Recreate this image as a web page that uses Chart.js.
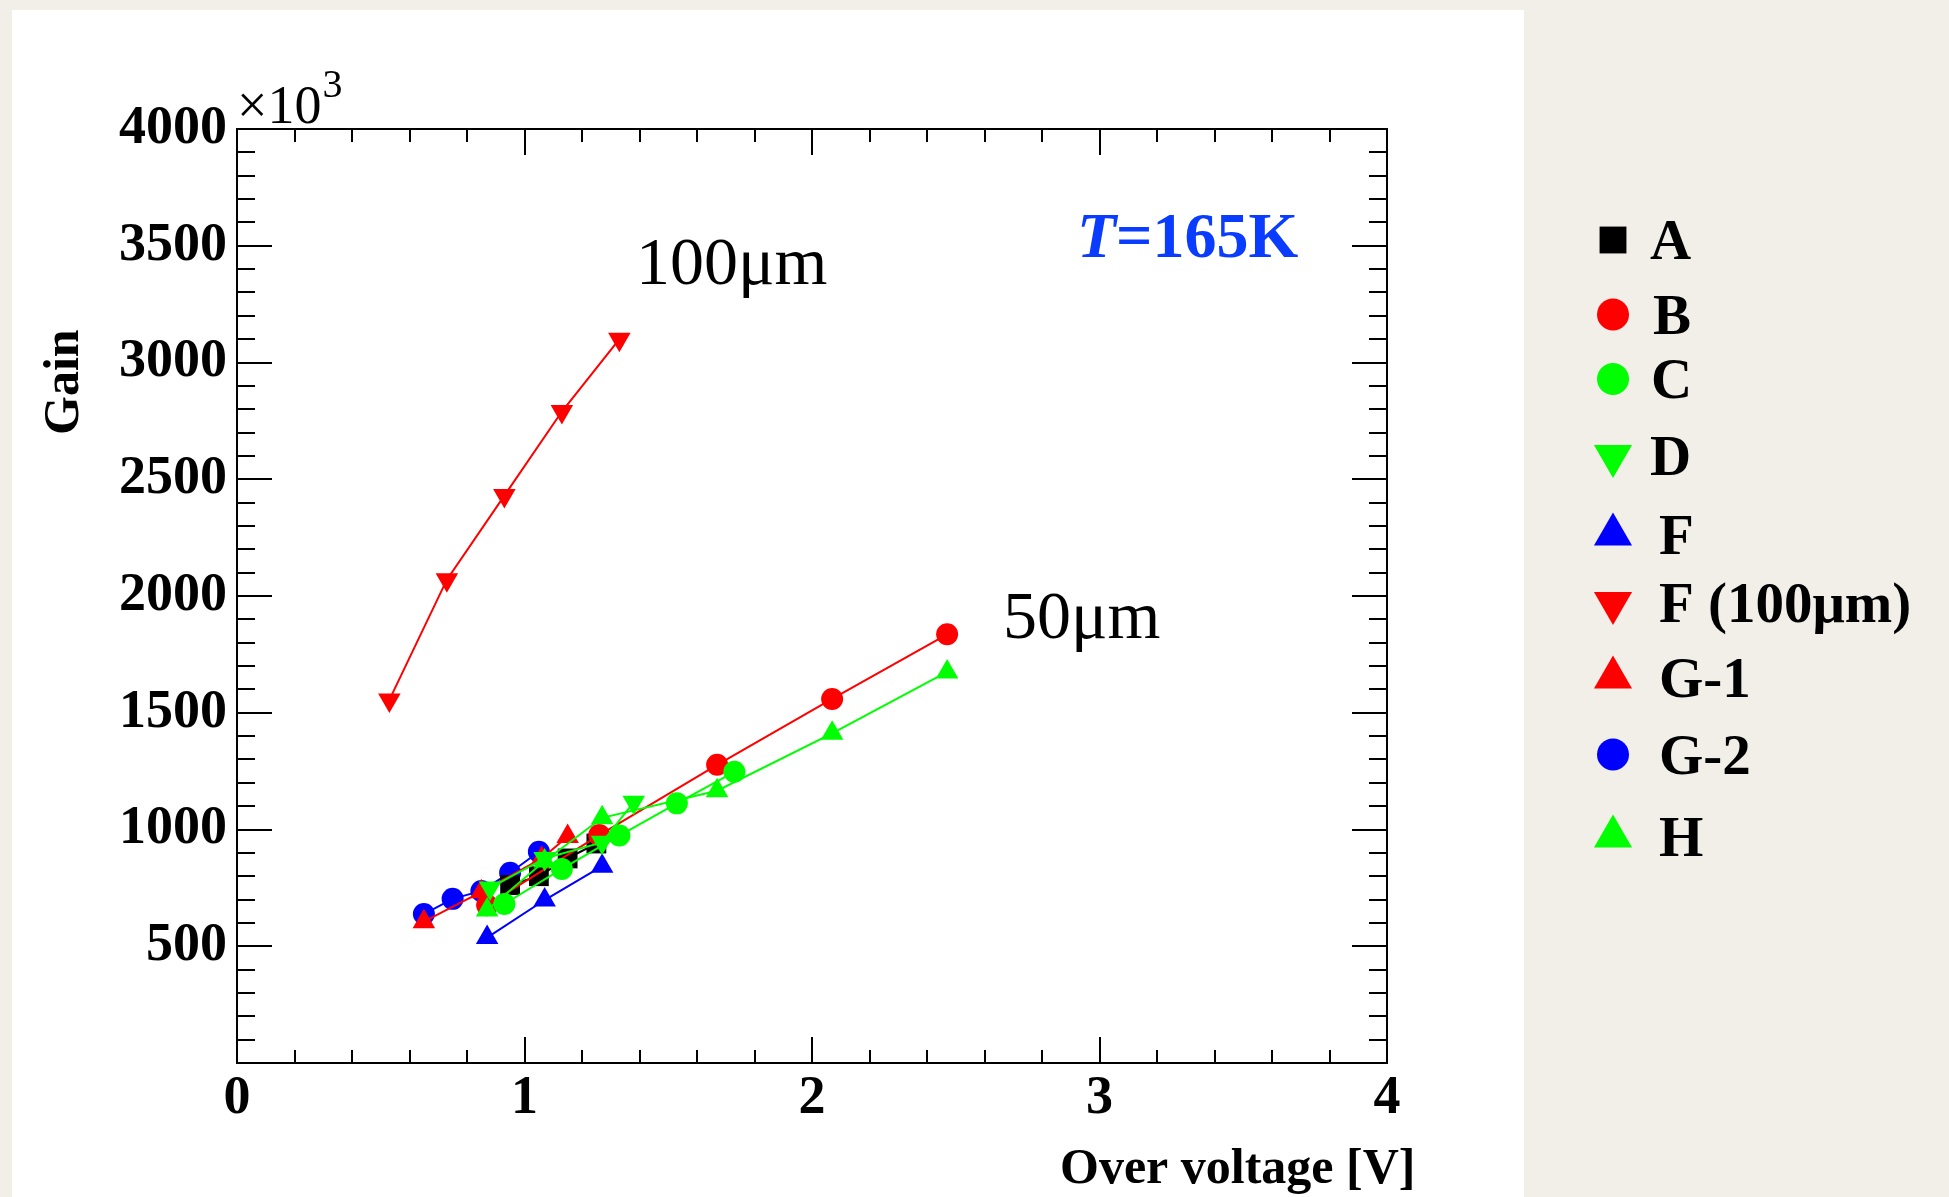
<!DOCTYPE html>
<html><head><meta charset="utf-8">
<script src="https://cdn.jsdelivr.net/npm/chart.js@4.4.1/dist/chart.umd.min.js"></script>
<style>
html,body{margin:0;padding:0;background:#f2efe9;overflow:hidden;width:1949px;height:1197px}
#c{position:absolute;left:0;top:0}
</style></head><body>
<canvas id="c" width="1949" height="1197"></canvas>
<script>
// ---- data ----
const seriesNames   = ['A','B','C','D','F','F (100μm)','G-1','G-2','H'];
const seriesColors  = ['#000000','#ff0000','#00ff00','#00ff00','#0000ff','#ff0000','#ff0000','#0000ff','#00ff00'];
const seriesMarkers = ['rect','circle','circle','triangle','triangle','triangle','triangle','circle','triangle'];
const seriesRotation= [0,0,0,180,0,180,0,0,0];

const xA = [0.95, 1.05, 1.15, 1.25];
const yA = [762, 800, 876, 940];
const xB = [0.87, 1.26, 1.67, 2.07, 2.47];
const yB = [676, 976, 1277, 1559, 1836];
const xC = [0.93, 1.13, 1.33, 1.53, 1.73];
const yC = [681, 831, 974, 1112, 1247];
const xD = [0.88, 1.07, 1.27, 1.38];
const yD = [750, 876, 945, 1117];
const xF = [0.87, 1.07, 1.27];
const yF = [537, 698, 843];
const xF100 = [0.53, 0.73, 0.93, 1.13, 1.33];
const yF100 = [1555, 2070, 2430, 2790, 3100];
const xG1 = [0.65, 0.85, 1.06, 1.15];
const yG1 = [605, 733, 876, 970];
const xG2 = [0.65, 0.75, 0.85, 0.95, 1.05];
const yG2 = [638, 703, 737, 815, 905];
const xH = [0.87, 1.07, 1.27, 1.67, 2.07, 2.47];
const yH = [655, 865, 1050, 1166, 1412, 1675];

const seriesX = [xA,xB,xC,xD,xF,xF100,xG1,xG2,xH];
const seriesY = [yA,yB,yC,yD,yF,yF100,yG1,yG2,yH];

const xTickValues = [0,1,2,3,4];
const yTickValues = [500,1000,1500,2000,2500,3000,3500,4000];

const annotations = {
  exponent: '×10', exponentSup: '3',
  label100: '100μm', label50: '50μm',
  temperature: ['T', '=165K'],
  xTitle: 'Over voltage [V]', yTitle: 'Gain'
};

// ---- styling ----
const markerRadius = {rect: 14, circle: 11, triangle: 13};
const legendRadius = {rect: 19, circle: 16, triangle: 22};
const drawOrder = [3, 2, 1, 1, 4, 2, 2, 4, 1];
const SERIF = '"Liberation Serif", "Times New Roman", serif';

const datasets = seriesNames.map((n, i) => ({
  label: n,
  data: seriesX[i].map((x, j) => ({x: x, y: seriesY[i][j]})),
  borderColor: seriesColors[i],
  backgroundColor: seriesColors[i],
  borderWidth: 2,
  pointStyle: seriesMarkers[i],
  rotation: seriesRotation[i],
  pointRadius: markerRadius[seriesMarkers[i]],
  pointHoverRadius: markerRadius[seriesMarkers[i]],
  pointBorderWidth: 0,
  pointBackgroundColor: seriesColors[i],
  showLine: true,
  fill: false,
  tension: 0,
  order: drawOrder[i]
}));

const decor = {
  id: 'decor',
  beforeDraw(chart) {
    const ctx = chart.ctx;
    ctx.save();
    ctx.fillStyle = '#f2efe9';
    ctx.fillRect(0, 0, chart.width, chart.height);
    ctx.fillStyle = '#ffffff';
    ctx.fillRect(12, 10, 1512, 1187);
    ctx.restore();
  },
  afterDraw(chart) {
    const ctx = chart.ctx;
    const a = chart.chartArea;
    const xs = chart.scales.x, ys = chart.scales.y;
    ctx.save();
    // frame
    ctx.strokeStyle = '#000';
    ctx.lineWidth = 2;
    ctx.strokeRect(a.left, a.top, a.right - a.left, a.bottom - a.top);
    // ticks (inside, mirrored)
    ctx.lineWidth = 2;
    ctx.beginPath();
    for (let i = 0; i <= 40; i++) {
      const v = i * 100;
      const len = (v % 500 === 0) ? 35 : 18;
      const py = Math.round(ys.getPixelForValue(v));
      ctx.moveTo(a.left, py); ctx.lineTo(a.left + len, py);
      ctx.moveTo(a.right, py); ctx.lineTo(a.right - len, py);
    }
    for (let i = 0; i <= 20; i++) {
      const v = i * 0.2;
      const len = (i % 5 === 0) ? 26 : 13;
      const px = Math.round(xs.getPixelForValue(v));
      ctx.moveTo(px, a.bottom); ctx.lineTo(px, a.bottom - len);
      ctx.moveTo(px, a.top); ctx.lineTo(px, a.top + len);
    }
    ctx.stroke();

    ctx.fillStyle = '#000';
    ctx.textBaseline = 'alphabetic';
    ctx.textAlign = 'left';
    // exponent
    ctx.font = '54px ' + SERIF;
    ctx.fillText(annotations.exponent, 237, 123);
    const w = ctx.measureText(annotations.exponent).width;
    ctx.font = '40px ' + SERIF;
    ctx.fillText(annotations.exponentSup, 237 + w + 1, 97);
    // labels
    ctx.font = '68px ' + SERIF;
    ctx.fillText(annotations.label100, 636, 284);
    ctx.fillText(annotations.label50, 1003, 638);
    // temperature
    ctx.fillStyle = '#0a3cff';
    ctx.font = 'italic bold 64px ' + SERIF;
    ctx.fillText(annotations.temperature[0], 1077, 257);
    const tw = ctx.measureText(annotations.temperature[0]).width;
    ctx.font = 'bold 64px ' + SERIF;
    ctx.fillText(annotations.temperature[1], 1077 + tw, 257);
    // axis titles
    ctx.fillStyle = '#000';
    ctx.font = 'bold 50px ' + SERIF;
    ctx.fillText(annotations.xTitle, 1060, 1183);
    ctx.save();
    ctx.translate(78, 435);
    ctx.rotate(-Math.PI / 2);
    ctx.font = 'bold 50px ' + SERIF;
    ctx.fillText(annotations.yTitle, 0, 0);
    ctx.restore();

    // legend
    const legX = 1613;
    const legTextX = [1650, 1653, 1651, 1650, 1659, 1659, 1659, 1659, 1659];
    const legY = [240, 314.5, 379, 456, 534.5, 603, 677.5, 754.5, 836.5];
    chart.data.datasets.forEach((ds, i) => {
      ctx.fillStyle = ds.backgroundColor;
      ctx.strokeStyle = ds.backgroundColor;
      Chart.helpers.drawPoint(ctx, {
        pointStyle: ds.pointStyle, rotation: ds.rotation,
        radius: legendRadius[ds.pointStyle], borderWidth: 0
      }, legX, legY[i]);
      ctx.fillStyle = '#000';
      ctx.font = 'bold 57px ' + SERIF;
      ctx.fillText(ds.label, legTextX[i], legY[i] + 19);
    });
    ctx.restore();
  }
};

new Chart(document.getElementById('c'), {
  type: 'line',
  data: {datasets},
  options: {
    responsive: false,
    devicePixelRatio: 1,
    animation: false,
    events: [],
    layout: {padding: {left: 0, top: 129, right: 562, bottom: 0}},
    plugins: {legend: {display: false}, tooltip: {enabled: false}},
    scales: {
      x: {
        type: 'linear', position: 'bottom', min: 0, max: 4,
        afterBuildTicks: s => { s.ticks = xTickValues.map(v => ({value: v})); },
        afterFit: s => { s.height = 134; },
        grid: {display: false, drawTicks: false, tickLength: 0},
        border: {display: false},
        ticks: {
          color: '#000', padding: 4, maxRotation: 0, autoSkip: false,
          font: {family: SERIF, size: 54, weight: 'bold'},
          callback: v => String(v)
        }
      },
      y: {
        type: 'linear', position: 'left', min: 0, max: 4000,
        afterBuildTicks: s => { s.ticks = yTickValues.map(v => ({value: v})); },
        afterFit: s => { s.width = 237; },
        grid: {display: false, drawTicks: false, tickLength: 0},
        border: {display: false},
        ticks: {
          color: '#000', padding: 10, autoSkip: false,
          font: {family: SERIF, size: 54, weight: 'bold'},
          callback: v => String(v)
        }
      }
    }
  },
  plugins: [decor]
});
</script>
</body></html>
